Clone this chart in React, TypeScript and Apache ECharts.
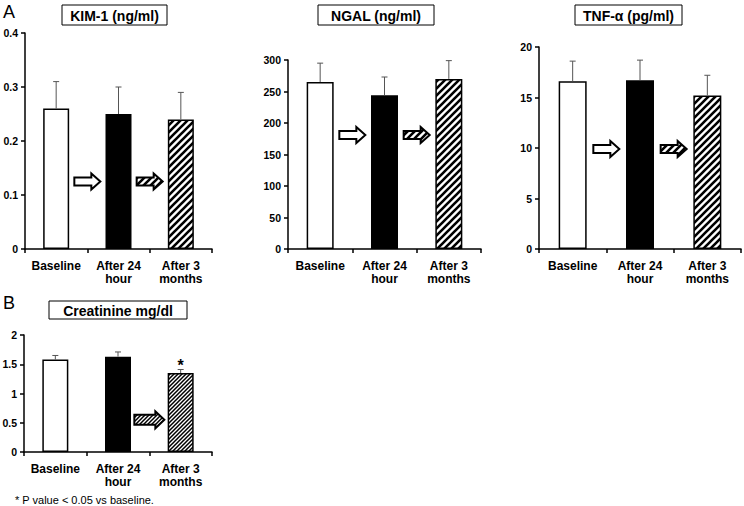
import React, { useEffect, useRef } from 'react';
import * as echarts from 'echarts';

// ---------- data ----------
const categories = ['Baseline', 'After 24\nhour', 'After 3\nmonths'];
const barFills = ['open', 'solid', 'hatch'];

const panelTitles = ['KIM-1 (ng/ml)', 'NGAL (ng/ml)', 'TNF-α (pg/ml)', 'Creatinine mg/dl'];

const kimMeans = [0.26, 0.25, 0.24];
const kimErrors = [0.05, 0.05, 0.05];
const ngalMeans = [265, 244, 270];
const ngalErrors = [30, 29, 29];
const tnfMeans = [16.6, 16.7, 15.2];
const tnfErrors = [2.0, 2.0, 2.0];
const creatMeans = [1.58, 1.63, 1.35];
const creatErrors = [0.07, 0.08, 0.06];
const creatSignificance = ['', '', '*'];

// y-axis ranges [max, interval]
const kimAxis = [0.4, 0.1];
const ngalAxis = [300, 50];
const tnfAxis = [20, 5];
const creatAxis = [2, 0.5];

// arrows: [from category index, height in data units, fill kind]
const kimArrows: [number, number, string][] = [[0, 0.125, 'open'], [1, 0.125, 'hatch']];
const ngalArrows: [number, number, string][] = [[0, 181, 'open'], [1, 181, 'hatch']];
const tnfArrows: [number, number, string][] = [[0, 9.9, 'open'], [1, 9.9, 'hatch']];
const creatArrows: [number, number, string][] = [[1, 0.55, 'hatchFine']];

const footnote = '* P value < 0.05 vs baseline.';

// ---------- helpers ----------
function makeHatch(size: number, lw: number) {
  const c = document.createElement('canvas');
  c.width = size;
  c.height = size;
  const ctx = c.getContext('2d')!;
  ctx.fillStyle = '#fff';
  ctx.fillRect(0, 0, size, size);
  ctx.strokeStyle = '#000';
  ctx.lineWidth = lw;
  ctx.beginPath();
  ctx.moveTo(-size / 2, size * 1.5);
  ctx.lineTo(size * 1.5, -size / 2);
  ctx.moveTo(-size / 2, size / 2);
  ctx.lineTo(size / 2, -size / 2);
  ctx.moveTo(size / 2, size * 1.5);
  ctx.lineTo(size * 1.5, size / 2);
  ctx.stroke();
  return { image: c, repeat: 'repeat', imageWidth: size, imageHeight: size } as any;
}

export default function App() {
  const ref = useRef<HTMLDivElement>(null);

  useEffect(() => {
    document.body.style.margin = '0';
    if (!ref.current) return;
    const chart = echarts.init(ref.current, null, { renderer: 'svg' });

    const hatch = makeHatch(7, 2.6);
    const hatchFine = makeHatch(4, 1.5);
    const fillFor = (k: string) =>
      k === 'open' ? '#fff' : k === 'solid' ? '#000' : k === 'hatch' ? hatch : hatchFine;

    const font = 'Liberation Sans, Arial, sans-serif';

    const grids = [
      { left: 25, top: 33, width: 187, height: 216 },
      { left: 288, top: 60, width: 193, height: 189 },
      { left: 539, top: 47, width: 202, height: 202 },
      { left: 24, top: 335, width: 188, height: 117 },
    ];
    const axes = [kimAxis, ngalAxis, tnfAxis, creatAxis];
    const means = [kimMeans, ngalMeans, tnfMeans, creatMeans];
    const errs = [kimErrors, ngalErrors, tnfErrors, creatErrors];
    const arrows = [kimArrows, ngalArrows, tnfArrows, creatArrows];
    const barWidths = [26, 27, 28, 26];
    const hatchKinds = ['hatch', 'hatch', 'hatch', 'hatchFine'];

    const series: any[] = [];
    means.forEach((m, g) => {
      series.push({
        type: 'bar',
        xAxisIndex: g,
        yAxisIndex: g,
        barWidth: barWidths[g],
        data: m.map((v, i) => ({
          value: v,
          itemStyle: {
            color: fillFor(barFills[i] === 'hatch' ? hatchKinds[g] : barFills[i]),
            borderColor: '#000',
            borderWidth: 1.5,
          },
        })),
        label:
          g === 3
            ? {
                show: true,
                position: 'top',
                distance: 0,
                formatter: (p: any) => creatSignificance[p.dataIndex],
                fontSize: 16,
                fontWeight: 'bold',
                fontFamily: font,
                color: '#000',
              }
            : { show: false },
        silent: true,
        z: 2,
      });
      series.push({
        type: 'custom',
        xAxisIndex: g,
        yAxisIndex: g,
        silent: true,
        z: 3,
        data: m.map((v, i) => [i, v, v + errs[g][i]]),
        renderItem: (_p: any, api: any) => {
          const x = api.value(0);
          const p0 = api.coord([x, api.value(1)]);
          const p1 = api.coord([x, api.value(2)]);
          return {
            type: 'group',
            children: [
              { type: 'line', shape: { x1: p0[0], y1: p0[1], x2: p1[0], y2: p1[1] }, style: { stroke: '#555', lineWidth: 1 } },
              { type: 'line', shape: { x1: p1[0] - 3, y1: p1[1], x2: p1[0] + 3, y2: p1[1] }, style: { stroke: '#555', lineWidth: 1 } },
            ],
          };
        },
      });
      const arr = arrows[g];
      series.push({
        type: 'custom',
        xAxisIndex: g,
        yAxisIndex: g,
        silent: true,
        z: 4,
        data: arr.map((a) => [a[0], a[1]]),
        renderItem: (p: any, api: any) => {
          const i = api.value(0);
          const v = api.value(1);
          const a = api.coord([i, v]);
          const b = api.coord([i + 1, v]);
          const cx = (a[0] + b[0]) / 2;
          const cy = a[1];
          const fine = g === 3;
          const W = fine ? 30 : 26;
          const HL = 9;
          const HH = fine ? 17 : 16;
          const SH = fine ? 10 : 8;
          const l = cx - W / 2;
          const r = cx + W / 2;
          const points = [
            [l, cy - SH / 2],
            [r - HL, cy - SH / 2],
            [r - HL, cy - HH / 2],
            [r, cy],
            [r - HL, cy + HH / 2],
            [r - HL, cy + SH / 2],
            [l, cy + SH / 2],
          ];
          return {
            type: 'polygon',
            shape: { points },
            style: { fill: fillFor(arr[p.dataIndex][2]), stroke: '#000', lineWidth: 2 },
          };
        },
      });
    });

    const titleBoxes = [
      { x: 62, y: 5, w: 105, h: 20 },
      { x: 318, y: 5, w: 116, h: 20 },
      { x: 575, y: 5, w: 107, h: 20 },
      { x: 49, y: 301, w: 138, h: 18 },
    ];

    const graphic: any[] = [];
    titleBoxes.forEach((b, i) => {
      graphic.push({
        type: 'rect',
        shape: { x: b.x, y: b.y, width: b.w, height: b.h },
        style: { fill: '#fff', stroke: '#000', lineWidth: 1 },
      });
      graphic.push({
        type: 'text',
        x: b.x + b.w / 2,
        y: b.y + b.h / 2 + 1,
        style: { text: panelTitles[i], font: `bold 14px ${font}`, fill: '#000', align: 'center', verticalAlign: 'middle' },
      });
    });
    graphic.push({ type: 'text', x: 3, y: 12, style: { text: 'A', font: `18px ${font}`, fill: '#000', align: 'left', verticalAlign: 'middle' } });
    graphic.push({ type: 'text', x: 3, y: 303, style: { text: 'B', font: `18px ${font}`, fill: '#000', align: 'left', verticalAlign: 'middle' } });
    graphic.push({ type: 'text', x: 15, y: 500, style: { text: footnote, font: `11px ${font}`, fill: '#000', align: 'left', verticalAlign: 'middle' } });

    chart.setOption({
      animation: false,
      backgroundColor: '#fff',
      grid: grids.map((g) => ({ ...g, containLabel: false, outerBoundsMode: 'none' })),
      xAxis: grids.map((_, g) => ({
        type: 'category',
        gridIndex: g,
        data: categories,
        axisLine: { show: true, lineStyle: { color: '#000', width: 1.5 } },
        axisTick: { show: true, length: 4, lineStyle: { color: '#000', width: 1.5 } },
        axisLabel: {
          interval: 0,
          margin: 10,
          fontSize: 12,
          lineHeight: 13,
          fontWeight: 'bold',
          fontFamily: font,
          color: '#000',
        },
        splitLine: { show: false },
      })),
      yAxis: axes.map((a, g) => ({
        type: 'value',
        gridIndex: g,
        min: 0,
        max: a[0],
        interval: a[1],
        axisLine: { show: true, lineStyle: { color: '#000', width: 1.5 } },
        axisTick: { show: true, length: 4, lineStyle: { color: '#000', width: 1.5 } },
        axisLabel: { margin: 7, fontSize: 10.5, fontWeight: 'bold', fontFamily: font, color: '#000' },
        splitLine: { show: false },
      })),
      series,
      graphic,
    });

    return () => chart.dispose();
  }, []);

  return <div ref={ref} style={{ width: 744, height: 506 }} />;
}
